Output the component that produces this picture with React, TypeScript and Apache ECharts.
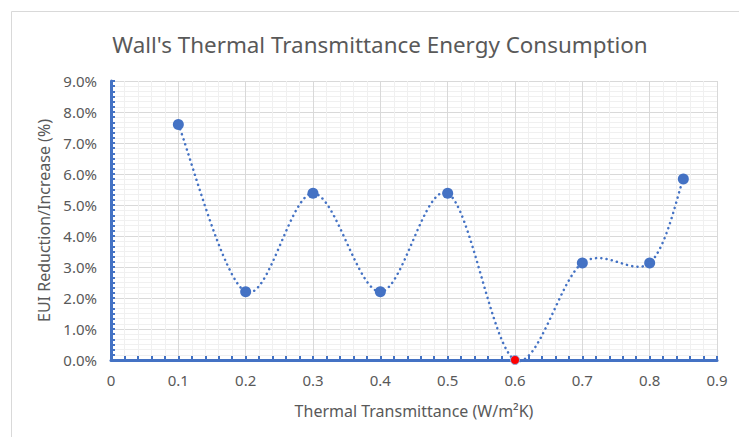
import React, { useEffect, useRef } from "react";
import * as echarts from "echarts";

// Wall U-value (W/m²K) against EUI change (%)
const uValues: number[] = [0.1, 0.2, 0.3, 0.4, 0.5, 0.6, 0.7, 0.8, 0.85];
const euiChange: number[] = [7.6, 2.2, 5.38, 2.2, 5.38, 0, 3.13, 3.13, 5.84];
// The reference (base) case is highlighted in red
const baseIndex = 5;

const titleText = "Wall's Thermal Transmittance Energy Consumption";
const xName = "Thermal Transmittance (W/m²K)";
const yName = "EUI Reduction/Increase (%)";

const FONT = "'Noto Sans', 'Open Sans', sans-serif";
const BLUE = "#4472C4";
const GREY_TEXT = "#595959";

// Smoothed connector: Catmull-Rom spline through the points, written as
// cubic Bézier segments in pixel space (api.coord maps data -> pixels).
function renderSmoothCurve(params: any, api: any) {
  if (params.dataIndex !== 0) return { type: "group", children: [] };
  const n = uValues.length;
  const pts = uValues.map((x, i) => api.coord([x, euiChange[i]]));
  const at = (k: number) => pts[Math.max(0, Math.min(n - 1, k))];
  let d = `M${pts[0][0]},${pts[0][1]}`;
  for (let i = 0; i < n - 1; i++) {
    const p0 = at(i - 1);
    const p1 = at(i);
    const p2 = at(i + 1);
    const p3 = at(i + 2);
    const c1x = p1[0] + (p2[0] - p0[0]) / 6;
    const c1y = p1[1] + (p2[1] - p0[1]) / 6;
    const c2x = p2[0] - (p3[0] - p1[0]) / 6;
    const c2y = p2[1] - (p3[1] - p1[1]) / 6;
    d += ` C${c1x},${c1y} ${c2x},${c2y} ${p2[0]},${p2[1]}`;
  }
  return {
    type: "path",
    shape: { pathData: d },
    style: {
      fill: "none",
      stroke: BLUE,
      lineWidth: 2.5,
      lineDash: [0.1, 5.2],
      lineCap: "round",
    },
    silent: true,
  };
}

export default function App() {
  const ref = useRef<HTMLDivElement>(null);

  useEffect(() => {
    if (!ref.current) return;
    const chart = echarts.init(ref.current, undefined, { renderer: "svg" });

    const pairs = uValues.map((x, i) => [x, euiChange[i]]);
    const markers = pairs.map((p, i) => {
      const item: any = { value: p };
      if (i === baseIndex) {
        item.symbolSize = 9;
        item.itemStyle = {
          color: "#FF0000",
          borderColor: "#8FAADC",
          borderWidth: 1,
          opacity: 1,
        };
      }
      return item;
    });

    chart.setOption({
      animation: false,
      backgroundColor: "#ffffff",
      textStyle: { fontFamily: FONT },
      graphic: [
        {
          type: "rect",
          shape: { x: 11.5, y: 11.5, width: 760, height: 460 },
          style: { fill: "none", stroke: "#D9D9D9", lineWidth: 1 },
          silent: true,
          z: -1,
        },
        {
          type: "text",
          x: 380,
          y: 44,
          style: {
            text: titleText,
            align: "center",
            verticalAlign: "middle",
            fontFamily: FONT,
            fontSize: 22.4,
            fill: GREY_TEXT,
          },
          silent: true,
        },
      ],
      grid: { left: 111, right: 22, top: 81, bottom: 77, containLabel: false },
      xAxis: {
        type: "value",
        min: 0,
        max: 0.9,
        interval: 0.1,
        name: xName,
        nameLocation: "middle",
        nameGap: 43,
        nameTextStyle: { fontFamily: FONT, fontSize: 16, color: GREY_TEXT },
        axisLine: { show: true, lineStyle: { color: BLUE, width: 3 } },
        axisTick: { show: true, inside: true, length: 4, lineStyle: { color: BLUE, width: 2 } },
        minorTick: { show: true, splitNumber: 5, length: 4, lineStyle: { color: BLUE, width: 2 } },
        axisLabel: {
          color: GREY_TEXT,
          fontSize: 15,
          margin: 12,
          formatter: (v: number) => (v === 0 ? "0" : String(Math.round(v * 10) / 10)),
        },
        splitLine: { show: true, lineStyle: { color: "#D9D9D9", width: 1 } },
        minorSplitLine: { show: true, lineStyle: { color: "#F0F0F0", width: 1 } },
      },
      yAxis: {
        type: "value",
        min: 0,
        max: 9,
        interval: 1,
        name: yName,
        nameLocation: "middle",
        nameGap: 58,
        nameTextStyle: { fontFamily: FONT, fontSize: 16, color: GREY_TEXT },
        axisLine: { show: true, lineStyle: { color: BLUE, width: 3 } },
        axisTick: { show: true, inside: true, length: 4, lineStyle: { color: BLUE, width: 2 } },
        minorTick: { show: true, splitNumber: 6, length: 4, lineStyle: { color: BLUE, width: 2 } },
        axisLabel: {
          color: GREY_TEXT,
          fontSize: 15,
          margin: 14,
          formatter: (v: number) => v.toFixed(1) + "%",
        },
        splitLine: { show: true, lineStyle: { color: "#D9D9D9", width: 1 } },
        minorSplitLine: { show: true, lineStyle: { color: "#F0F0F0", width: 1 } },
      },
      series: [
        {
          type: "custom",
          data: pairs,
          encode: { x: 0, y: 1 },
          renderItem: renderSmoothCurve,
          clip: false,
          z: 2,
        },
        {
          type: "scatter",
          data: markers,
          symbol: "circle",
          symbolSize: 11,
          itemStyle: { color: BLUE, opacity: 1 },
          z: 3,
        },
      ],
    });

    return () => chart.dispose();
  }, []);

  return (
    <div
      ref={ref}
      style={{ position: "fixed", left: 0, top: 0, width: 739, height: 437 }}
    />
  );
}
